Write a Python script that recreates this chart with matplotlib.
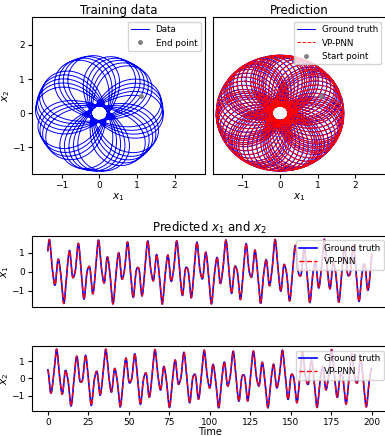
import numpy as np
import matplotlib
matplotlib.use('Agg')
import matplotlib.pyplot as plt

# values
start_point = [1.1, 0.5]        # end of training data / start of prediction
start_velocity = [1.06, -0.25]  # estimated from the first swing of x1 and x2
t_train = 140.0
t_pred = 300.0    # length drawn in the phase plane
t_series = 200.0  # length drawn in the time series
dt = 0.01
xy_lim = [-1.79, 2.81]
xy_ticks = [-1, 0, 1, 2]
time_ticks = [0, 25, 50, 75, 100, 125, 150, 175, 200]
series_ticks = [-1, 0, 1]


def rhs(s):
    # charged particle, B = |x| along z, phi = 1/(100|x|)
    x1, x2, v1, v2 = s
    r = np.sqrt(x1 * x1 + x2 * x2)
    e = 1.0 / (100.0 * r ** 3)
    return np.array([v1, v2, e * x1 + v2 * r, e * x2 - v1 * r])


def integrate(s0, T, h):
    n = int(round(abs(T / h)))
    out = np.zeros((n + 1, 4))
    s = np.array(s0, dtype=float)
    out[0] = s
    for i in range(n):
        k1 = rhs(s)
        k2 = rhs(s + 0.5 * h * k1)
        k3 = rhs(s + 0.5 * h * k2)
        k4 = rhs(s + h * k3)
        s = s + h / 6.0 * (k1 + 2 * k2 + 2 * k3 + k4)
        out[i + 1] = s
    return out


s0 = start_point + start_velocity
train = integrate(s0, t_train, -dt)[::-1]
pred = integrate(s0, t_pred, dt)
n_series = int(round(t_series / dt)) + 1
t = np.linspace(0, t_series, n_series)
series = pred[:n_series]

plt.rcParams['font.size'] = 6.5
plt.rcParams['xtick.major.pad'] = 2
plt.rcParams['ytick.major.pad'] = 2
plt.rcParams['xtick.major.size'] = 3
plt.rcParams['ytick.major.size'] = 3
fig = plt.figure(figsize=(3.85, 4.36), dpi=100)

ax1 = fig.add_axes([0.0831, 0.6002, 0.4494, 0.3601])
ax1.plot(train[:, 0], train[:, 1], 'b-', lw=0.7, label='Data')
ax1.plot(train[-1, 0], train[-1, 1], 'o', color='gray', ms=2.5, label='End point')
ax1.set_xlim(xy_lim)
ax1.set_ylim(xy_lim)
ax1.set_xticks(xy_ticks)
ax1.set_yticks(xy_ticks)
ax1.set_title('Training data', fontsize=8.5, pad=2)
ax1.set_xlabel('$x_1$', fontsize=7.5, labelpad=1)
ax1.set_ylabel('$x_2$', fontsize=7.5, labelpad=0)
ax1.legend(loc='upper right', fontsize=6.3)

ax2 = fig.add_axes([0.5525, 0.6002, 0.4494, 0.3601])
ax2.plot(pred[:, 0], pred[:, 1], 'b-', lw=0.7, label='Ground truth')
ax2.plot(pred[:, 0], pred[:, 1], 'r--', lw=0.7, label='VP-PNN')
ax2.plot(pred[0, 0], pred[0, 1], 'o', color='gray', ms=2.5, label='Start point')
ax2.set_xlim(xy_lim)
ax2.set_ylim(xy_lim)
ax2.set_xticks(xy_ticks)
ax2.set_yticks([])
ax2.set_title('Prediction', fontsize=8.5, pad=2)
ax2.set_xlabel('$x_1$', fontsize=7.5, labelpad=1)
ax2.legend(loc='upper right', fontsize=6.3)

ax3 = fig.add_axes([0.0823, 0.2952, 0.9255, 0.1635])
ax3.plot(t, series[:, 0], 'b-', lw=1.2, label='Ground truth')
ax3.plot(t, series[:, 0], 'r--', lw=1.0, label='VP-PNN')
ax3.set_xlim(-10, 210)
ax3.set_xticks([])
ax3.set_yticks(series_ticks)
ax3.set_ylabel('$x_1$', fontsize=7.5, labelpad=0)
ax3.set_title('Predicted $x_1$ and $x_2$', fontsize=8.5, pad=2)
ax3.legend(loc='upper right', fontsize=6.3)

ax4 = fig.add_axes([0.0823, 0.058, 0.9255, 0.148])
ax4.plot(t, series[:, 1], 'b-', lw=1.2, label='Ground truth')
ax4.plot(t, series[:, 1], 'r--', lw=1.0, label='VP-PNN')
ax4.set_xlim(-10, 210)
ax4.set_xticks(time_ticks)
ax4.set_yticks(series_ticks)
ax4.set_ylabel('$x_2$', fontsize=7.5, labelpad=0)
ax4.set_xlabel('Time', fontsize=7, labelpad=0)
ax4.legend(loc='upper right', fontsize=6.3)

fig.savefig('out.png', dpi=100)
